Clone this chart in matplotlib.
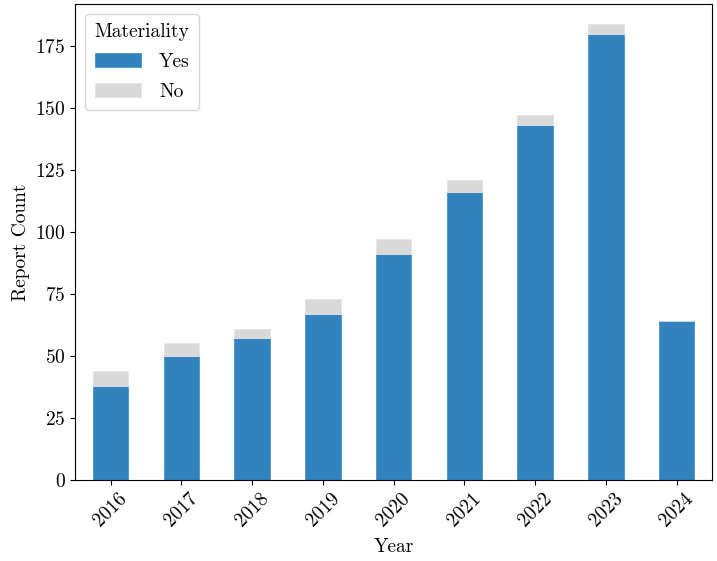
import matplotlib
matplotlib.use("Agg")
import matplotlib.pyplot as plt
import numpy as np

plt.rcParams["font.family"] = "serif"
plt.rcParams["font.serif"] = ["cmr10", "DejaVu Serif"]
plt.rcParams["mathtext.fontset"] = "cm"
plt.rcParams["axes.formatter.use_mathtext"] = True
plt.rcParams["font.size"] = 14

years = ["2016", "2017", "2018", "2019", "2020", "2021", "2022", "2023", "2024"]
yes_counts = [38, 50, 57, 67, 91, 116, 143, 180, 64]
no_counts = [6, 5, 4, 6, 6, 5, 4, 4, 0]

fig, ax = plt.subplots(figsize=(7.17, 5.61), dpi=100)
x = np.arange(len(years))
w = 0.5
ax.bar(x, yes_counts, width=w, color="#3182bd", edgecolor="#4a92c8",
       linewidth=0.6, label="Yes")
ax.bar(x, no_counts, width=w, bottom=yes_counts, color="#d9d9d9",
       edgecolor="#e3e3e3", linewidth=0.6, label="No")

ax.set_xlim(-0.5, len(years) - 0.5)
ax.set_ylim(0, 192)
ax.set_yticks([0, 25, 50, 75, 100, 125, 150, 175])
ax.set_xticks(x)
ax.set_xticklabels(years, rotation=45)
ax.set_xlabel("Year", labelpad=6)
ax.set_ylabel("Report Count")
ax.legend(title="Materiality", loc="upper left", fontsize=14,
          title_fontsize=14, handlelength=2.4, handletextpad=0.9,
          labelspacing=0.6, borderpad=0.5)

fig.subplots_adjust(left=0.105, right=0.993, top=0.993, bottom=0.145)
fig.savefig("out.png", dpi=100)
